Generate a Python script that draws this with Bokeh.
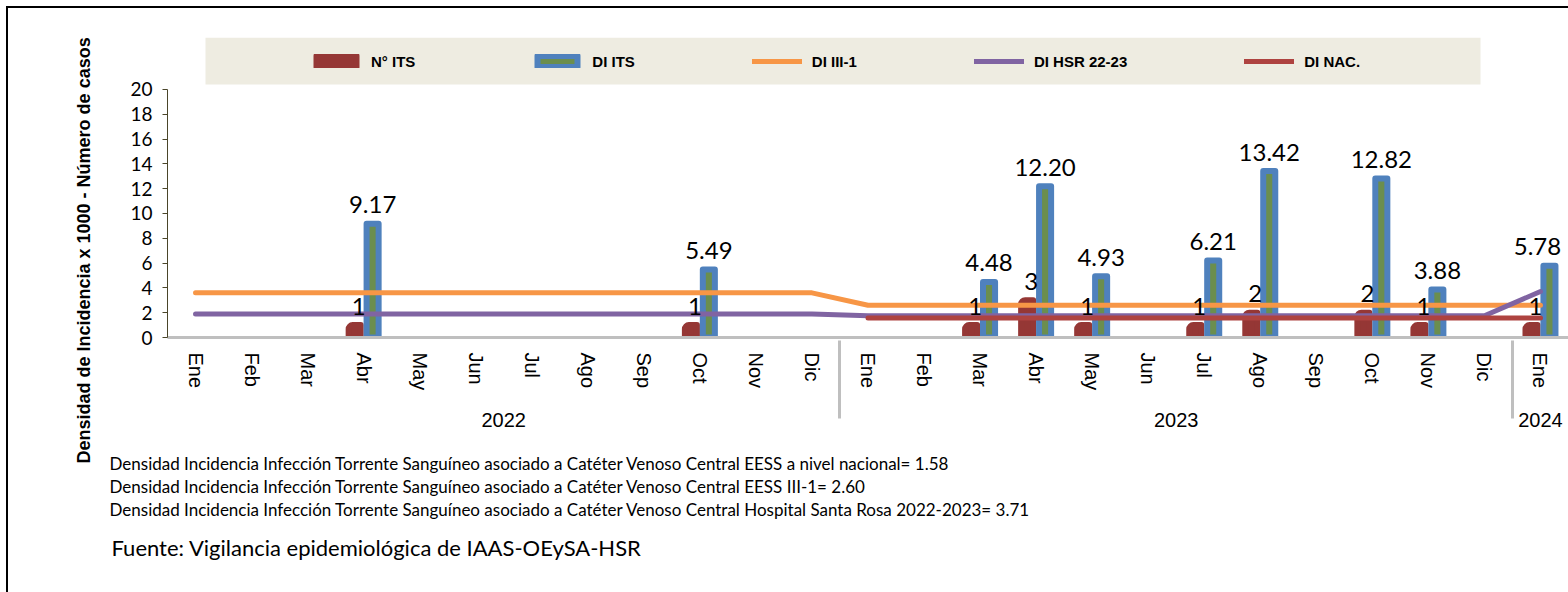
import numpy as np
from bokeh.plotting import figure
from bokeh.models import (FactorRange, Range1d, ColumnDataSource, Legend, LegendItem,
                          BoxAnnotation, FixedTicker, Title)
from bokeh.transform import dodge
from bokeh.core.properties import value
from bokeh.embed import file_html
from bokeh.resources import INLINE

# ---------------- data ----------------
years = ["2022", "2023", "2024"]
months = ["Ene", "Feb", "Mar", "Abr", "May", "Jun", "Jul", "Ago", "Sep", "Oct", "Nov", "Dic"]
months_2024 = ["Ene"]

# N° ITS (cases)
n_its = [None, None, None, 1, None, None, None, None, None, 1, None, None,
         None, None, 1, 3, 1, None, 1, 2, None, 2, 1, None,
         1]
# DI ITS (density)
di_its = [None, None, None, 9.17, None, None, None, None, None, 5.49, None, None,
          None, None, 4.48, 12.20, 4.93, None, 6.21, 13.42, None, 12.82, 3.88, None,
          5.78]
# DI III-1
di_iii1 = [3.6, 3.6, 3.6, 3.6, 3.6, 3.6, 3.6, 3.6, 3.6, 3.6, 3.6, 3.6,
           2.6, 2.6, 2.6, 2.6, 2.6, 2.6, 2.6, 2.6, 2.6, 2.6, 2.6, 2.6,
           2.6]
# DI HSR 22-23
di_hsr = [1.9, 1.9, 1.9, 1.9, 1.9, 1.9, 1.9, 1.9, 1.9, 1.9, 1.9, 1.9,
          1.75, 1.75, 1.75, 1.75, 1.75, 1.75, 1.75, 1.75, 1.75, 1.75, 1.75, 1.75,
          3.71]
# DI NAC.
di_nac = [None, None, None, None, None, None, None, None, None, None, None, None,
          1.58, 1.58, 1.58, 1.58, 1.58, 1.58, 1.58, 1.58, 1.58, 1.58, 1.58, 1.58,
          1.58]

y_ticks = [0, 2, 4, 6, 8, 10, 12, 14, 16, 18, 20]
legend_labels = ["N° ITS", "DI ITS", "DI III-1", "DI HSR 22-23", "DI NAC."]
y_title = "Densidad de Incidencia x 1000 - Número de casos"
footnotes = [
    "Densidad Incidencia Infección Torrente Sanguíneo asociado a Catéter Venoso Central EESS a nivel nacional= 1.58",
    "Densidad Incidencia Infección Torrente Sanguíneo asociado a Catéter Venoso Central EESS III-1= 2.60",
    "Densidad Incidencia Infección Torrente Sanguíneo asociado a Catéter Venoso Central Hospital Santa Rosa 2022-2023= 3.71",
]
source_note = "Fuente: Vigilancia epidemiológica de IAAS-OEySA-HSR"

# ---------------- build ----------------
# leading spaces only reserve room between the month row and the year row
pad = "  "
factors = ([(years[0], pad + m) for m in months] + [(years[1], pad + m) for m in months]
           + [(years[2], pad + m) for m in months_2024])

def arr(v):
    return np.array([np.nan if x is None else x for x in v], dtype=float)

red_src = ColumnDataSource(dict(
    x=[f for f, v in zip(factors, n_its) if v is not None],
    top=[v for v in n_its if v is not None],
    label=["%d" % v for v in n_its if v is not None]))
blue_x = [f for f, v in zip(factors, di_its) if v is not None]
blue_src = ColumnDataSource(dict(
    x=blue_x,
    top=[v for v in di_its if v is not None],
    label=["%.2f" % v for v in di_its if v is not None],
    xoff=[-12 if f == factors[-1] else 0 for f in blue_x]))   # keep last label inside the page
line_src = ColumnDataSource(dict(x=factors, iii1=arr(di_iii1), hsr=arr(di_hsr), nac=arr(di_nac)))

x_range = FactorRange(*factors, group_padding=0, subgroup_padding=0, factor_padding=0, range_padding=0)
p = figure(x_range=x_range, y_range=Range1d(0, 24.19), width=1568, height=592,
           output_backend="svg", toolbar_location=None,
           min_border_left=167, min_border_right=0, min_border_top=37, min_border_bottom=255)
p.border_fill_alpha = 0
p.styles = {"box-shadow": "inset 6px 6px 0 0 white, inset 8px 8px 0 0 black"}
p.xgrid.visible = False
p.ygrid.visible = False
p.outline_line_color = None

# legend background band
p.add_layout(BoxAnnotation(left=0.678, right=23.43, bottom=20.4, top=24.19,
                           fill_color="#EEECE1", fill_alpha=1, line_color=None, level="underlay"))

r_red = p.vbar(x=dodge('x', -0.16, range=x_range), top='top', width=0.215, source=red_src,
               fill_color="#953735", line_color="#953735", line_width=6, line_join="round",
               border_radius=(4, 0, 0, 0))
r_blue = p.vbar(x=dodge('x', 0.16, range=x_range), top='top', width=0.215, source=blue_src,
                fill_color="#6B8E4E", line_color="#4F81BD", line_width=6, line_join="round")

r_or = p.line('x', 'iii1', source=line_src, line_color="#F79646", line_width=5,
              line_cap="round", line_join="round")
r_pu = p.line('x', 'hsr', source=line_src, line_color="#8064A2", line_width=5,
              line_cap="round", line_join="round")
r_na = p.line('x', 'nac', source=line_src, line_color="#AE4340", line_width=5,
              line_cap="round", line_join="round")

p.text(x=dodge('x', 0.16, range=x_range), y='top', text='label', source=blue_src,
       text_font=value("Lato"), text_font_size="24px", text_color="black",
       text_align="center", text_baseline="alphabetic", y_offset=-19, x_offset='xoff')
p.text(x=dodge('x', -0.16, range=x_range), y='top', text='label', source=red_src,
       text_font=value("Lato"), text_font_size="24px", text_color="black",
       text_align="center", text_baseline="alphabetic", y_offset=-19, x_offset=4)

legend = Legend(items=[LegendItem(label=legend_labels[0], renderers=[r_red]),
                       LegendItem(label=legend_labels[1], renderers=[r_blue]),
                       LegendItem(label=legend_labels[2], renderers=[r_or]),
                       LegendItem(label=legend_labels[3], renderers=[r_pu]),
                       LegendItem(label=legend_labels[4], renderers=[r_na])],
                orientation="horizontal", location=(144, 266), padding=10, spacing=117,
                glyph_width=50, glyph_height=14, label_standoff=10, label_height=20,
                label_text_font="Liberation Sans", label_text_font_style="bold",
                label_text_font_size="15px", label_text_color="black",
                background_fill_alpha=0, border_line_color=None, margin=0)
p.add_layout(legend)

# y axis
p.yaxis.ticker = FixedTicker(ticks=y_ticks)
p.yaxis.bounds = (0, 20)
p.yaxis.axis_line_color = "#4A452A"
p.yaxis.major_tick_line_color = "#4A452A"
p.yaxis.major_tick_out = 5
p.yaxis.major_tick_in = 0
p.yaxis.minor_tick_line_color = None
p.yaxis.major_label_text_font = "Lato"
p.yaxis.major_label_text_font_size = "19px"
p.yaxis.major_label_text_color = "black"
p.yaxis.major_label_standoff = 10

# x axis
p.xaxis.axis_line_color = "#BFBFBF"
p.xaxis.axis_line_width = 3
p.xaxis.major_tick_line_color = None
p.xaxis.major_label_orientation = "vertical"
p.xaxis.major_label_text_font = "Liberation Sans"
p.xaxis.major_label_text_font_size = "20px"
p.xaxis.major_label_text_color = "black"
p.xaxis.major_label_standoff = 9
p.xaxis.group_text_font = "Liberation Sans"
p.xaxis.group_text_font_size = "20px"
p.xaxis.group_text_color = "black"
p.xaxis.group_text_font_style = "normal"
p.xaxis.separator_line_color = "#BFBFBF"
p.xaxis.separator_line_width = 3

# y title (left side panel)
p.add_layout(Title(text=y_title, align="left", vertical_align="middle", offset=-126, standoff=65,
                   text_font="Liberation Sans", text_font_style="bold",
                   text_font_size="18px", text_color="black"), "left")

# notes (below side panel)
p.add_layout(Title(text=" ", align="left", vertical_align="middle", offset=-58, standoff=17.5,
                   text_font="Lato", text_font_size="1px"), "below")
for txt in footnotes:
    p.add_layout(Title(text=txt, align="left", vertical_align="middle", offset=-58, standoff=0,
                       text_font="Lato", text_font_style="normal", text_font_size="17px",
                       text_color="black"), "below")
p.add_layout(Title(text=source_note, align="left", vertical_align="middle", offset=-56, standoff=23.5,
                   text_font="Lato", text_font_style="normal", text_font_size="22px",
                   text_color="black"), "below")

open("out.html", "w").write(file_html(p, INLINE))
